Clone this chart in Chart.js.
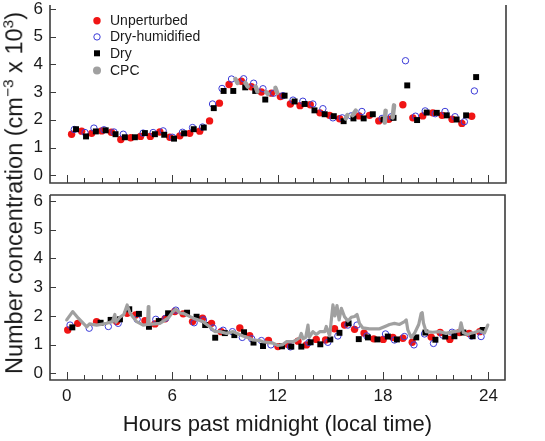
<!DOCTYPE html>
<html>
<head>
<meta charset="utf-8">
<script src="https://cdn.jsdelivr.net/npm/chart.js@4.4.0/dist/chart.umd.min.js"></script>
<style>
html,body{margin:0;padding:0;background:#fff;}
#wrap{position:relative;width:545px;height:441px;overflow:hidden;font-family:"Liberation Sans",Arial,Helvetica,sans-serif;}
canvas{position:absolute;left:0;}
#ytitle{position:absolute;left:15px;top:193px;transform:translate(-50%,-50%) rotate(-90deg);white-space:nowrap;font-size:23.5px;color:#1a1a1a;line-height:1;}
#ytitle sup{font-size:0.66em;vertical-align:0.55em;line-height:0;}
</style>
</head>
<body>
<div id="wrap">
  <canvas id="topChart" width="545" height="190" style="top:0;width:545px;height:190px"></canvas>
  <canvas id="botChart" width="545" height="253" style="top:188px;width:545px;height:253px"></canvas>
  <div id="ytitle">Number concentration (cm<sup>−3</sup> x 10<sup>3</sup>)</div>
</div>
<script>
// ---------------- DATA ----------------
const seriesNames = ['Unperturbed', 'Dry-humidified', 'Dry', 'CPC'];
const xTickValues = [0, 6, 12, 18, 24];
const yTickValues = [0, 1, 2, 3, 4, 5, 6];
const xAxisTitle = 'Hours past midnight (local time)';

// Top panel
const topUnpertHours  = [0.28,0.85,1.42,1.99,2.54,3.08,3.64,4.2,4.76,5.3,5.87,6.44,7.0,7.57,8.13,8.69,9.24,9.94,10.51,11.08,11.65,12.16,12.73,13.28,13.86,14.41,14.96,15.53,16.64,17.23,17.76,18.33,19.13,19.7,20.26,20.83,21.36,21.93,22.49,23.05];
const topUnpertValues = [1.48,1.59,1.51,1.60,1.55,1.29,1.35,1.40,1.40,1.56,1.37,1.42,1.51,1.59,1.96,2.60,3.27,3.39,3.19,3.00,2.96,2.84,2.57,2.51,2.54,2.25,2.16,2.04,2.14,2.16,1.96,2.02,2.54,2.07,2.14,2.25,2.16,2.02,1.87,2.13];

const topDryHumHours  = [0.43,1.04,1.55,2.12,2.69,3.22,4.35,4.92,5.49,6.02,6.59,7.16,7.73,8.3,8.84,9.38,10.07,10.64,11.17,11.78,12.31,12.88,13.44,14.01,14.58,15.15,15.68,16.19,16.8,17.95,18.47,19.28,19.85,20.4,20.97,21.53,22.1,22.63,23.2];
const topDryHumValues = [1.65,1.54,1.70,1.64,1.56,1.48,1.52,1.54,1.60,1.37,1.55,1.72,1.74,2.57,3.13,3.47,3.48,3.32,3.12,2.96,2.87,2.71,2.67,2.57,2.40,2.07,2.07,2.14,2.30,2.05,2.11,4.13,2.13,2.32,2.22,2.30,2.11,1.93,3.04];

const topDryHours  = [0.53,1.1,1.66,2.22,2.78,3.31,3.88,4.45,5.02,5.55,6.11,6.68,7.23,7.8,8.37,8.93,9.48,10.16,10.73,11.3,12.4,12.97,13.54,14.1,14.68,15.2,15.76,16.32,16.9,17.42,18.03,18.6,19.38,19.94,20.49,21.06,21.63,22.19,22.73,23.3];
const topDryValues = [1.66,1.40,1.58,1.62,1.48,1.37,1.37,1.52,1.48,1.46,1.32,1.51,1.66,1.72,2.42,3.04,3.04,3.17,3.04,2.73,2.87,2.66,2.57,2.34,2.20,2.13,1.95,2.05,2.05,2.20,2.01,2.07,3.24,1.99,2.26,2.25,2.16,2.01,2.16,3.54];

// CPC in top panel only exists in short bursts (null = gap)
const topCpcHours  = [9.6,9.72,9.8, 10.17,10.3,10.4, 10.75,10.85,10.95, 11.35,11.45,11.5, 11.88,11.98,12.05, 15.88,15.98,16.1, 16.28,16.45,16.6, 18.1,18.15,18.3, 18.55,18.63];
const topCpcValues = [3.47,3.33,null, 3.33,3.20,null, 3.20,3.02,null, 3.00,2.93,null, 3.15,2.97,null, 2.05,2.17,null, 2.17,2.33,null, 1.90,2.33,null, 2.08,2.52];

// Bottom panel
const botUnpertHours  = [0.06,0.63,1.7,2.84,3.44,3.92,4.45,5.02,5.6,6.15,6.63,7.16,7.73,8.24,8.79,9.85,10.41,11.48,12.02,12.59,13.16,13.64,14.2,14.73,15.24,15.81,16.38,16.92,17.47,18.01,18.56,19.13,19.66,20.74,21.25,21.8,22.35,22.9,23.5];
const botUnpertValues = [1.51,1.74,1.80,1.80,2.09,2.03,1.83,1.72,1.90,2.15,2.07,1.80,1.92,1.74,1.45,1.58,1.31,1.14,0.93,1.00,1.12,0.99,1.18,1.16,1.55,1.68,1.53,1.40,1.20,1.18,1.25,1.22,1.08,1.26,1.42,1.18,1.42,1.39,1.45];

const botDryHumHours  = [0.19,1.28,2.37,2.93,4.01,5.07,5.64,6.21,7.25,7.78,8.33,8.9,9.43,9.99,10.53,11.08,11.62,12.73,13.78,14.86,15.43,16.0,16.52,17.08,18.14,18.65,19.22,19.76,20.36,20.87,21.4,21.93,23.04,23.58];
const botDryHumValues = [1.68,1.57,1.63,1.74,1.88,1.88,1.92,2.20,1.76,1.86,1.58,1.50,1.45,1.25,1.20,1.14,0.99,0.92,1.07,1.08,1.30,1.68,1.68,1.30,1.37,1.16,1.28,0.99,1.37,1.04,1.33,1.43,1.30,1.28];

const botDryHours  = [0.32,1.93,2.5,3.03,3.56,4.11,4.68,5.24,5.77,6.85,7.39,7.88,8.45,9.0,9.54,10.09,10.63,11.17,12.25,12.78,13.35,13.88,14.43,15.0,15.52,16.04,16.62,17.14,17.68,18.27,18.79,19.89,20.41,20.98,21.54,22.06,22.57,23.1,23.67];
const botDryValues = [1.60,1.76,1.86,1.88,2.23,2.07,1.62,1.82,2.09,2.11,1.97,1.68,1.24,1.40,1.33,1.43,1.07,0.95,0.94,0.93,0.93,1.08,1.01,1.18,1.41,1.74,1.19,1.25,1.18,1.28,1.18,1.25,1.42,1.17,1.28,1.29,1.42,1.29,1.51];

const botCpcHours  = [0.0,0.34,0.66,1.14,1.3,1.7,2.27,2.6,2.74,2.8,3.03,3.25,3.44,3.6,3.75,3.98,4.35,4.6,4.64,4.68,5.0,5.3,5.77,6.05,6.21,6.45,6.63,7.2,7.76,8.14,8.43,8.71,9.09,9.47,10.03,10.42,10.6,10.98,11.17,11.55,11.74,12.02,12.3,12.5,12.88,13.07,13.26,13.35,13.45,13.6,13.73,13.8,14.01,14.2,14.4,14.68,14.77,14.96,15.15,15.26,15.38,15.5,15.63,15.81,16.0,16.19,16.38,16.52,16.66,16.85,17.23,17.8,18.18,18.37,18.65,18.94,19.22,19.32,19.41,19.6,19.79,20.03,20.17,20.23,20.3,20.45,20.83,21.21,21.59,21.97,22.35,22.44,22.57,22.82,23.01,23.2,23.48,23.77,23.96];
const botCpcValues = [1.86,2.15,1.92,1.62,1.72,1.68,1.74,1.80,2.05,1.78,1.95,2.05,2.38,2.10,1.98,1.80,1.68,1.70,2.32,1.70,1.72,1.74,1.92,2.15,2.23,2.10,2.09,1.92,1.80,1.62,1.45,1.45,1.39,1.45,1.30,1.22,1.16,1.14,1.10,1.07,1.05,0.97,1.00,1.10,1.10,1.16,1.24,1.39,1.20,1.25,1.68,1.25,1.45,1.35,1.45,1.45,1.63,1.30,2.38,2.00,2.36,1.86,2.26,1.97,1.82,1.95,1.98,2.05,1.74,1.58,1.55,1.55,1.65,1.70,1.74,1.70,1.80,1.86,1.51,1.25,1.39,1.70,2.09,2.11,1.75,1.45,1.43,1.45,1.39,1.45,1.48,1.76,1.42,1.35,1.40,1.42,1.48,1.40,1.68];

// ---------------- STYLE ----------------
const FONT = '"Liberation Sans", Arial, Helvetica, sans-serif';
const RED = '#f01414', BLUE = '#3b3bd8', BLACK = '#000000', GRAY = '#a0a0a0', FRAME = '#3c3c3c', TEXT = '#1a1a1a';
Chart.defaults.font.family = FONT;
Chart.defaults.color = TEXT;

function pts(h, v) { return h.map((x, i) => ({ x: x, y: v[i] })); }

function makeDatasets(uh, uv, dh, dv, kh, kv, ch, cv, cpcWidth) {
  return [
    { label: seriesNames[3], type: 'line', data: pts(ch, cv), borderColor: GRAY, borderWidth: cpcWidth,
      pointRadius: 0, showLine: true, spanGaps: false, borderCapStyle: 'round', borderJoinStyle: 'round', tension: 0, order: 0 },
    { label: seriesNames[2], data: pts(kh, kv), pointStyle: 'rect', pointRadius: 4.2, backgroundColor: BLACK, borderColor: BLACK, borderWidth: 0, order: 1 },
    { label: seriesNames[1], data: pts(dh, dv), pointStyle: 'circle', pointRadius: 3.2, backgroundColor: 'rgba(0,0,0,0)', borderColor: BLUE, borderWidth: 1, order: 2 },
    { label: seriesNames[0], data: pts(uh, uv), pointStyle: 'circle', pointRadius: 3.7, backgroundColor: RED, borderColor: RED, borderWidth: 0, order: 3 }
  ];
}

const framePlugin = {
  id: 'frame',
  afterDatasetsDraw(chart, args, opts) {
    const { ctx, chartArea: a } = chart;
    const x = chart.scales.x, y = chart.scales.y;
    ctx.save();
    ctx.strokeStyle = FRAME;
    ctx.lineWidth = 1.6;
    ctx.beginPath();
    ctx.moveTo(a.left, a.top); ctx.lineTo(a.left, a.bottom); ctx.lineTo(a.right, a.bottom); ctx.lineTo(a.right, a.top);
    if (opts.top) { ctx.lineTo(a.left, a.top); }
    ctx.stroke();
    ctx.lineWidth = 1;
    ctx.beginPath();
    yTickValues.forEach(v => {
      const py = Math.round(y.getPixelForValue(v)) + 0.5;
      ctx.moveTo(a.left, py); ctx.lineTo(a.left + 6, py);
    });
    for (let h = xTickValues[0]; h <= xTickValues[xTickValues.length - 1]; h++) {
      const px = Math.round(x.getPixelForValue(h)) + 0.5;
      const len = xTickValues.includes(h) ? 8 : 5;
      ctx.moveTo(px, a.bottom); ctx.lineTo(px, a.bottom - len);
    }
    ctx.stroke();
    ctx.restore();
  }
};

const legendPlugin = {
  id: 'customLegend',
  afterDraw(chart) {
    const ctx = chart.ctx;
    const mx = 97, tx = 110, rows = [20.7, 36.9, 53.3, 70.5];
    ctx.save();
    ctx.fillStyle = RED; ctx.beginPath(); ctx.arc(mx, rows[0], 3.7, 0, Math.PI * 2); ctx.fill();
    ctx.strokeStyle = BLUE; ctx.lineWidth = 1; ctx.beginPath(); ctx.arc(mx, rows[1], 3.2, 0, Math.PI * 2); ctx.stroke();
    ctx.fillStyle = BLACK; ctx.fillRect(mx - 3, rows[2] - 3, 6, 6);
    ctx.fillStyle = GRAY; ctx.beginPath(); ctx.arc(mx, rows[3], 4, 0, Math.PI * 2); ctx.fill();
    ctx.fillStyle = TEXT;
    ctx.font = '14px ' + FONT;
    ctx.textBaseline = 'middle';
    ctx.textAlign = 'left';
    seriesNames.forEach((n, i) => ctx.fillText(n, tx, rows[i] + 0.5));
    ctx.restore();
  }
};

function yScale(min, max) {
  return {
    type: 'linear', min: min, max: max,
    grid: { display: false, drawTicks: false },
    border: { display: false },
    ticks: { font: { size: 17, family: FONT }, color: TEXT, padding: 7 },
    afterBuildTicks: s => { s.ticks = yTickValues.map(v => ({ value: v })); },
    afterFit: s => { s.width = 50; s.paddingTop = 0; s.paddingBottom = 0; }
  };
}

// ---------------- TOP CHART ----------------
new Chart(document.getElementById('topChart'), {
  type: 'scatter',
  data: { datasets: makeDatasets(topUnpertHours, topUnpertValues, topDryHumHours, topDryHumValues, topDryHours, topDryValues, topCpcHours, topCpcValues, 4.5) },
  options: {
    responsive: false, animation: false, devicePixelRatio: 1, events: [],
    layout: { padding: { left: 0, right: 39, top: 0, bottom: 7 } },
    plugins: { legend: { display: false }, tooltip: { enabled: false }, frame: { top: false } },
    scales: {
      x: { type: 'linear', min: -0.95, max: 25, display: false },
      y: yScale(-0.28, 6.14)
    }
  },
  plugins: [framePlugin, legendPlugin]
});

// ---------------- BOTTOM CHART ----------------
new Chart(document.getElementById('botChart'), {
  type: 'scatter',
  data: { datasets: makeDatasets(botUnpertHours, botUnpertValues, botDryHumHours, botDryHumValues, botDryHours, botDryValues, botCpcHours, botCpcValues, 3.2) },
  options: {
    responsive: false, animation: false, devicePixelRatio: 1, events: [],
    layout: { padding: { left: 0, right: 40, top: 7, bottom: 0 } },
    plugins: { legend: { display: false }, tooltip: { enabled: false }, frame: { top: true } },
    scales: {
      x: {
        type: 'linear', min: -0.95, max: 24.94,
        grid: { display: false, drawTicks: false },
        border: { display: false },
        ticks: { font: { size: 17, family: FONT }, color: TEXT, padding: 6, maxRotation: 0 },
        afterBuildTicks: s => { s.ticks = xTickValues.map(v => ({ value: v })); },
        afterFit: s => { s.height = 61; s.paddingLeft = 0; s.paddingRight = 0; },
        title: { display: true, text: xAxisTitle, color: TEXT, font: { size: 22, family: FONT, lineHeight: 1.2 }, padding: { top: 0, bottom: 3 } }
      },
      y: yScale(-0.233, 6.209)
    }
  },
  plugins: [framePlugin]
});
</script>
</body>
</html>
